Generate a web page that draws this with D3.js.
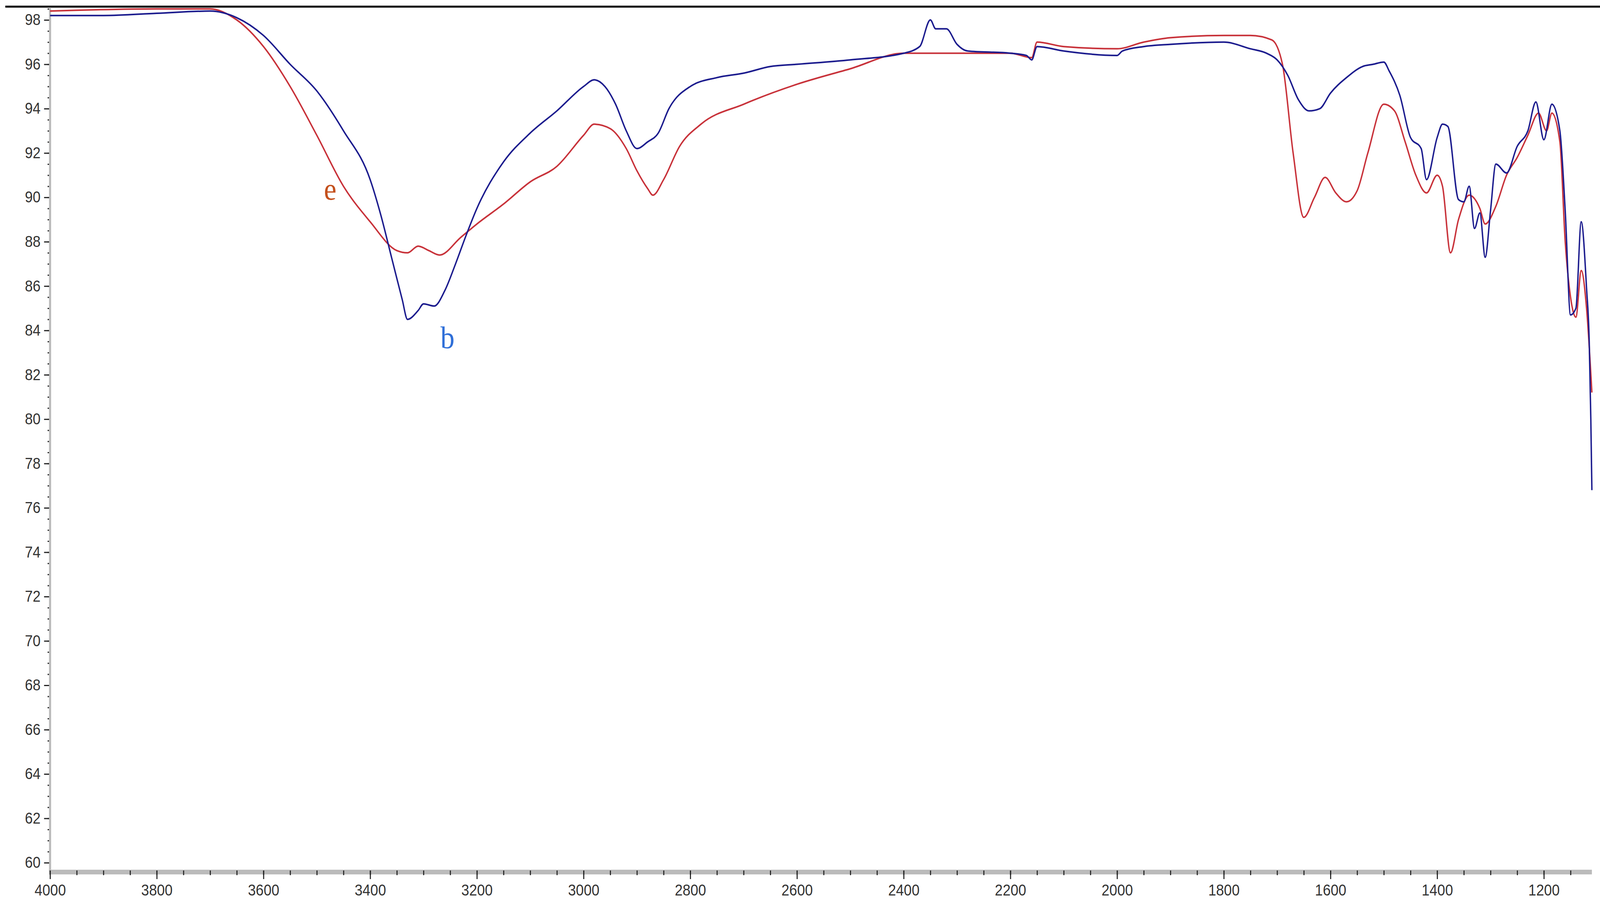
<!DOCTYPE html>
<html><head><meta charset="utf-8">
<script src="https://cdn.jsdelivr.net/npm/d3@7"></script>
<style>html,body{margin:0;padding:0;background:#fff;overflow:hidden}svg{display:block;width:100vw;height:100vh}</style></head>
<body><svg id="c" viewBox="0 0 4538 2324" preserveAspectRatio="none"></svg>
<script>
const waveB=[4000,3900,3800,3700,3650,3600,3550,3500,3450,3400,3380,3360,3340,3330,3310,3300,3280,3260,3240,3220,3200,3150,3100,3050,3000,2980,2960,2940,2920,2900,2880,2860,2840,2800,2750,2700,2650,2600,2500,2400,2370,2350,2340,2320,2300,2280,2200,2170,2160,2150,2100,2000,1990,1950,1900,1800,1750,1720,1700,1680,1660,1640,1620,1600,1570,1540,1520,1500,1490,1470,1450,1430,1420,1400,1390,1380,1360,1350,1340,1330,1320,1310,1300,1290,1270,1250,1230,1215,1200,1185,1170,1160,1150,1140,1130,1120,1115,1112,1110];
const valB=[98.2,98.2,98.3,98.4,98.1,97.3,96.0,94.8,93.0,90.8,89.2,87.3,85.4,84.5,84.9,85.2,85.1,85.8,87.0,88.3,89.5,91.6,92.9,93.9,95.0,95.3,95.0,94.2,93.0,92.2,92.5,92.9,94.0,95.0,95.4,95.6,95.9,96.0,96.2,96.5,96.8,98.0,97.6,97.6,96.9,96.6,96.5,96.4,96.2,96.8,96.6,96.4,96.6,96.8,96.9,97.0,96.7,96.5,96.2,95.5,94.4,93.9,94.0,94.7,95.4,95.9,96.0,96.1,95.7,94.6,92.7,92.2,90.8,92.7,93.3,93.2,89.9,89.8,90.5,88.6,89.3,87.3,89.4,91.5,91.1,92.3,93.0,94.3,92.6,94.2,93.0,89.4,84.7,85.0,88.9,85.9,83.5,80.0,76.8];
const waveE=[4000,3800,3700,3650,3600,3550,3500,3450,3400,3350,3330,3310,3290,3270,3230,3200,3150,3100,3050,3000,2980,2950,2920,2900,2880,2870,2850,2820,2780,2700,2600,2500,2400,2300,2200,2160,2150,2100,2000,1950,1900,1800,1750,1710,1690,1670,1650,1630,1610,1590,1570,1550,1530,1500,1480,1460,1440,1420,1400,1390,1375,1360,1340,1320,1310,1290,1270,1250,1230,1210,1195,1185,1170,1160,1150,1140,1130,1120,1110];
const valE=[98.4,98.5,98.5,98.0,96.8,95.0,92.8,90.5,88.9,87.6,87.5,87.8,87.6,87.4,88.2,88.8,89.7,90.7,91.4,92.8,93.3,93.1,92.2,91.2,90.4,90.1,90.8,92.3,93.3,94.2,95.1,95.8,96.5,96.5,96.5,96.3,97.0,96.8,96.7,97.0,97.2,97.3,97.3,97.1,96.0,92.0,89.1,90.0,90.9,90.2,89.8,90.3,92.0,94.2,93.9,92.5,91.0,90.2,91.0,90.5,87.5,89.0,90.1,89.5,88.8,89.6,91.0,91.8,92.8,93.8,93.0,93.8,92.5,88.0,85.5,84.6,86.7,85.0,81.2];
const yTicks=d3.range(60,99,2);
const xTicks=d3.range(4000,1199,-200);

const svg=d3.select("#c");
const x=d3.scaleLinear().domain([4000,1110]).range([142,4515]);
const y=d3.scaleLinear().domain([59.65,98.6]).range([2228,17]);
svg.append("line").attr("x1",15).attr("x2",4538).attr("y1",17).attr("y2",17).attr("stroke","#000").attr("stroke-width",5);
svg.append("line").attr("x1",142).attr("x2",142).attr("y1",19).attr("y2",2232).attr("stroke","#bbb").attr("stroke-width",6);
svg.append("line").attr("x1",139).attr("x2",4515).attr("y1",2232).attr("y2",2232).attr("stroke","#bbb").attr("stroke-width",12);
const ya=svg.append("g").attr("transform","translate(139,0)");
ya.call(d3.axisLeft(y).tickValues(d3.range(60,98.6,0.5)).tickSize(4).tickFormat(""));
ya.select(".domain").remove();
ya.selectAll("line").attr("stroke","#222").attr("stroke-width",3);
const yb=svg.append("g").attr("transform","translate(139,0)");
yb.call(d3.axisLeft(y).tickValues(yTicks).tickSize(14).tickPadding(10).tickFormat(d3.format("d")));
yb.select(".domain").remove();
yb.selectAll("line").attr("stroke","#222").attr("stroke-width",3);
yb.selectAll("text").attr("font-family","Liberation Sans, Arial").attr("font-size",40).attr("fill","#333");
const xa=svg.append("g").attr("transform","translate(0,2228)");
xa.call(d3.axisBottom(x).tickValues(d3.range(4000,1110,-50)).tickSize(12).tickFormat(""));
xa.select(".domain").remove();
xa.selectAll("line").attr("stroke","#222").attr("stroke-width",3);
const xb=svg.append("g").attr("transform","translate(0,2228)");
xb.call(d3.axisBottom(x).tickValues(xTicks).tickSize(22).tickPadding(14).tickFormat(d3.format("d")));
xb.select(".domain").remove();
xb.selectAll("line").attr("stroke","#222").attr("stroke-width",3);
xb.selectAll("text").attr("font-family","Liberation Sans, Arial").attr("font-size",40).attr("fill","#333");

const line=d3.line().x(d=>x(d[0])).y(d=>y(d[1])).curve(d3.curveMonotoneX);
svg.append("path").datum(waveE.map((w,i)=>[w,valE[i]])).attr("d",line).attr("fill","none").attr("stroke","#c8323a").attr("stroke-width",4);
svg.append("path").datum(waveB.map((w,i)=>[w,valB[i]])).attr("d",line).attr("fill","none").attr("stroke","#1c1c8e").attr("stroke-width",4);

svg.append("text").attr("x",x(3475)).attr("y",y(89.9)).text("e").attr("font-family","Liberation Serif, DejaVu Serif").attr("font-size",80).attr("fill","#c4501c").attr("text-anchor","middle");
svg.append("text").attr("x",x(3255)).attr("y",y(83.2)).text("b").attr("font-family","Liberation Serif, DejaVu Serif").attr("font-size",80).attr("fill","#2f6fd8").attr("text-anchor","middle");
</script></body></html>
